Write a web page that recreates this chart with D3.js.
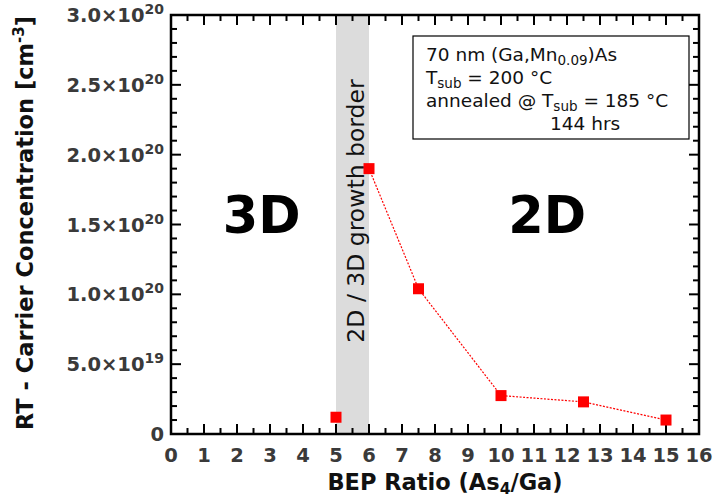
<!DOCTYPE html>
<html>
<head>
<meta charset="utf-8">
<script src="https://cdn.jsdelivr.net/npm/d3@7"></script>
<style>
  html, body { margin: 0; padding: 0; background: #fff; }
  svg { display: block; font-family: "DejaVu Sans", sans-serif; }
</style>
</head>
<body>
<svg id="chart" width="713" height="500"></svg>
<script>
// Carrier concentration vs. BEP ratio
const bepRatio = [5, 6, 7.5, 10, 12.5, 15];
const carrierConc = [1.2e19, 1.9e20, 1.04e20, 2.75e19, 2.3e19, 1.0e19];
// points joined by the trend line (2D growth regime only)
const connectedFrom = 1;

const xTicks = d3.range(0, 17, 1);
const yTickMantissa = ["0", "5.0", "1.0", "1.5", "2.0", "2.5", "3.0"];
const yTickExponent = ["", "19", "20", "20", "20", "20", "20"];
const yTickValues = [0, 5e19, 1e20, 1.5e20, 2e20, 2.5e20, 3e20];
const borderBand = [5, 6];

const svg = d3.select("#chart");
const m = { left: 171, right: 14, top: 15, bottom: 66 };
const W = 713, H = 500;
const x = d3.scaleLinear().domain([0, 16]).range([m.left, W - m.right]);
const y = d3.scaleLinear().domain([0, 3e20]).range([H - m.bottom, m.top]);

const x0 = x.range()[0], x1 = x.range()[1];
const yb = y.range()[0], yt = y.range()[1];

// growth-border band
svg.append("rect")
  .attr("x", x(borderBand[0])).attr("y", yt)
  .attr("width", x(borderBand[1]) - x(borderBand[0])).attr("height", yb - yt)
  .attr("fill", "#dcdcdc");

svg.append("text")
  .attr("transform", `translate(${x(5.5) + 11},${211}) rotate(-90)`)
  .attr("text-anchor", "middle")
  .attr("font-size", 23.5)
  .attr("fill", "#111")
  .text("2D / 3D growth border");

// region labels
svg.append("text").attr("x", x(2.75)).attr("y", 233).attr("text-anchor", "middle")
  .attr("font-size", 51).attr("font-weight", "bold").text("3D");
svg.append("text").attr("x", x(11.4)).attr("y", 233).attr("text-anchor", "middle")
  .attr("font-size", 51).attr("font-weight", "bold").text("2D");

// ticks (inward, all four sides)
const tickG = svg.append("g").attr("stroke", "#000").attr("stroke-width", 2);
const xMinor = d3.range(0, 16.01, 0.5);
xMinor.forEach(v => {
  const major = Number.isInteger(v);
  const len = major ? 10 : 6;
  tickG.append("line").attr("x1", x(v)).attr("x2", x(v)).attr("y1", yb).attr("y2", yb - len);
  tickG.append("line").attr("x1", x(v)).attr("x2", x(v)).attr("y1", yt).attr("y2", yt + len);
});
const yMinor = d3.range(0, 3.0001e20, 1e19);
yMinor.forEach((v, i) => {
  const major = i % 5 === 0;
  const len = major ? 10 : 6;
  tickG.append("line").attr("x1", x0).attr("x2", x0 + len).attr("y1", y(v)).attr("y2", y(v));
  tickG.append("line").attr("x1", x1).attr("x2", x1 - len).attr("y1", y(v)).attr("y2", y(v));
});

// frame
svg.append("rect").attr("x", x0).attr("y", yt).attr("width", x1 - x0).attr("height", yb - yt)
  .attr("fill", "none").attr("stroke", "#000").attr("stroke-width", 2.5);

// x tick labels
svg.append("g").selectAll("text").data(xTicks).join("text")
  .attr("x", d => x(d)).attr("y", yb + 28)
  .attr("text-anchor", "middle").attr("font-size", 19.5).attr("font-weight", "bold")
  .attr("fill", "#3a3a3a").text(d => d);

// y tick labels
const yl = svg.append("g");
yTickValues.forEach((v, i) => {
  const t = yl.append("text")
    .attr("x", x0 - 7).attr("y", y(v) + 7)
    .attr("text-anchor", "end").attr("font-size", 19.5).attr("font-weight", "bold")
    .attr("fill", "#3a3a3a");
  if (yTickExponent[i]) {
    t.append("tspan").text(yTickMantissa[i] + "\u00d710");
    t.append("tspan").attr("dy", -8).attr("font-size", 14).text(yTickExponent[i]);
  } else {
    t.text(yTickMantissa[i]);
  }
});

// axis titles
const xt = svg.append("text").attr("x", 445).attr("y", 490).attr("text-anchor", "middle")
  .attr("font-size", 22.5).attr("font-weight", "bold").attr("fill", "#111");
xt.append("tspan").text("BEP Ratio (As");
xt.append("tspan").attr("dy", 4).attr("font-size", 15.5).text("4");
xt.append("tspan").attr("dy", -4).text("/Ga)");

const ytl = svg.append("text")
  .attr("transform", `translate(33,${223}) rotate(-90)`)
  .attr("text-anchor", "middle").attr("font-size", 22.5).attr("font-weight", "bold").attr("fill", "#111");
ytl.append("tspan").text("RT - Carrier Concentration [cm");
ytl.append("tspan").attr("dy", -9).attr("font-size", 15).text("-3");
ytl.append("tspan").attr("dy", 9).text("]");

// trend line
const pts = bepRatio.map((b, i) => ({ b, c: carrierConc[i] }));
const line = d3.line().x(d => x(d.b)).y(d => y(d.c));
svg.append("path").datum(pts.slice(connectedFrom))
  .attr("d", line).attr("fill", "none").attr("stroke", "#f00")
  .attr("stroke-width", 1.2).attr("stroke-dasharray", "2,1.5");

// markers
svg.append("g").selectAll("rect").data(pts).join("rect")
  .attr("x", d => x(d.b) - 5.5).attr("y", d => y(d.c) - 5.5)
  .attr("width", 11).attr("height", 11).attr("fill", "#f00");

// annotation box
const bx = 413, by = 36, bw = 276, bh = 103;
svg.append("rect").attr("x", bx).attr("y", by).attr("width", bw).attr("height", bh)
  .attr("fill", "#fff").attr("stroke", "#000").attr("stroke-width", 1.2);
const note = svg.append("g").attr("font-size", 18.5).attr("fill", "#111");
const l1 = note.append("text").attr("x", 426).attr("y", 61);
l1.append("tspan").text("70 nm (Ga,Mn");
l1.append("tspan").attr("dy", 4).attr("font-size", 13.5).text("0.09");
l1.append("tspan").attr("dy", -4).text(")As");
const l2 = note.append("text").attr("x", 426).attr("y", 84);
l2.append("tspan").text("T");
l2.append("tspan").attr("dy", 4).attr("font-size", 13.5).text("sub");
l2.append("tspan").attr("dy", -4).text(" = 200 \u00b0C");
const l3 = note.append("text").attr("x", 426).attr("y", 107);
l3.append("tspan").text("annealed @ T");
l3.append("tspan").attr("dy", 4).attr("font-size", 13.5).text("sub");
l3.append("tspan").attr("dy", -4).text(" = 185 \u00b0C");
note.append("text").attr("x", 550).attr("y", 130).text("144 hrs");
</script>
</body>
</html>
